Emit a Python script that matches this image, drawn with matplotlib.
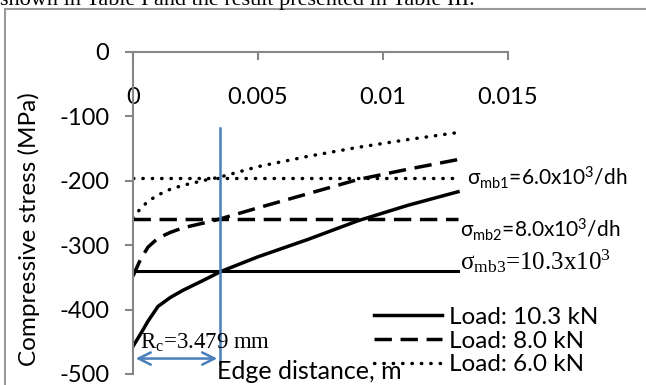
import matplotlib
matplotlib.use("Agg")
import matplotlib.pyplot as plt
import matplotlib.patches as patches

# edge distance (m) and compressive stress (MPa)
x_load = [0.0, 0.0003, 0.0006, 0.001, 0.0015, 0.002, 0.003, 0.0035, 0.005, 0.007, 0.009, 0.011, 0.013]
s_103 = [-457, -438, -418, -395, -381, -370, -351, -341, -318, -291, -262, -238, -217]
s_80 = [-348, -322, -303, -289, -280, -273, -264, -259, -242, -220, -198, -182, -167]
s_60 = [-258, -243, -232, -222, -213, -207, -198, -194, -178, -162, -148, -136, -125]

limit_x = [0.0, 0.013]
sigma_mb1 = -195
sigma_mb2 = -260
sigma_mb3 = -340
r_c = 0.003479

x_ticks = [0, 0.005, 0.01, 0.015]
x_labels = ["0", "0.005", "0.01", "0.015"]
y_ticks = [0, -100, -200, -300, -400, -500]

FONT = "Lato"
SERIF = "Liberation Serif"
BLUE = "#4a7ebb"
GRAY = "#868686"

plt.rcParams["font.family"] = [FONT, "DejaVu Sans"]
plt.rcParams["mathtext.default"] = "regular"
plt.rcParams["axes.unicode_minus"] = False

fig = plt.figure(figsize=(6.46, 3.85), dpi=100)
ax = fig.add_axes([133 / 646, 1 - 374 / 385, 375 / 646, 322 / 385])
ax.patch.set_alpha(0)

LW = 2.5
dotted = (0, (0.1, 2.6))
dashed = (0, (5, 2.5))

ax.plot(x_load, s_103, color="black", lw=LW, label="Load: 10.3 kN")
ax.plot(x_load, s_80, color="black", lw=LW, ls=dashed, label="Load: 8.0 kN")
ax.plot(x_load, s_60, color="black", lw=LW, ls=dotted, dash_capstyle="round",
        label="Load: 6.0 kN")

ax.plot(limit_x, [sigma_mb1] * 2, color="black", lw=LW, ls=dotted, dash_capstyle="round")
ax.plot(limit_x, [sigma_mb2] * 2, color="black", lw=LW, ls=dashed)
ax.plot(limit_x, [sigma_mb3] * 2, color="black", lw=2.2)

# critical edge distance marker
ax.plot([r_c, r_c], [-118, -483], color=BLUE, lw=1.8)
ax.annotate("", xy=(0, -476), xytext=(r_c, -476),
            arrowprops=dict(arrowstyle="<->", color=BLUE, lw=1.8, mutation_scale=22))
ax.text(0.0003, -451, r"R$_c$=3.479 mm", fontsize=16.5, family=SERIF, va="center")

ax.text(0.01336, sigma_mb1, r"σ$_{mb1}$=6.0x10$^3$/dh", fontsize=15, va="center")
ax.text(0.01308, -276, r"σ$_{mb2}$=8.0x10$^3$/dh", fontsize=15, va="center")
ax.text(0.01308, -324, r"σ$_{mb3}$=10.3x10$^3$", fontsize=18, family=SERIF, va="center")

ax.set_xlim(0, 0.015)
ax.set_ylim(-500, 0)
ax.set_xticks(x_ticks)
ax.set_xticklabels(x_labels)
ax.set_yticks(y_ticks)
ax.tick_params(axis="x", top=True, bottom=False, labeltop=True, labelbottom=False,
               direction="in", length=6, width=1.5, color=GRAY, pad=-40, labelsize=17)
ax.tick_params(axis="y", direction="out", length=6, width=1.5, color=GRAY, pad=11,
               labelsize=17)
for side in ["right", "bottom"]:
    ax.spines[side].set_visible(False)
for side in ["left", "top"]:
    ax.spines[side].set_color(GRAY)
    ax.spines[side].set_linewidth(1.5)

ax.set_ylabel("Compressive stress (MPa)", fontsize=17.5)
ax.yaxis.set_label_coords(-0.248, 0.45)
ax.text(0.469, 0.009, "Edge distance, m", transform=ax.transAxes, fontsize=18,
        ha="center", va="center")

leg = ax.legend(loc="center left", bbox_to_anchor=(374 / 646, 1 - 341 / 385),
                bbox_transform=fig.transFigure, frameon=False, fontsize=17.5,
                handlelength=2.8, handletextpad=0.3, labelspacing=0.12,
                borderpad=0, borderaxespad=0)

# text of the page above the chart, cut off by the crop
fig.text(0.0, 1 - 5.5 / 385, "shown in Table I and the result presented in Table III.",
         family=SERIF, fontsize=16, va="baseline", ha="left")

# chart frame
fig.patches.append(patches.Rectangle((5 / 646, -0.05), 1.0, 1 - 9 / 385 + 0.05,
                                     transform=fig.transFigure, fill=False,
                                     edgecolor="#9a9a9a", lw=1.5))

fig.savefig("out.png", dpi=100)
